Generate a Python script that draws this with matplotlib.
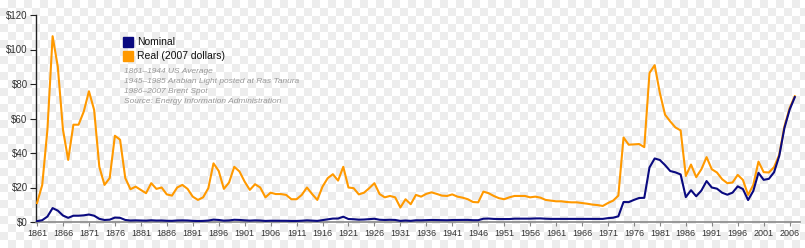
import numpy as np
import matplotlib
matplotlib.use("Agg")
import matplotlib.pyplot as plt
from matplotlib.patches import Rectangle

plt.rcParams["font.family"] = ["Liberation Sans", "DejaVu Sans"]

# 年份 1861-2007
years = list(range(1861, 2008))

# 名义油价（美元/桶）
nominal = [
    0.49, 1.05, 3.15, 8.06, 6.59, 3.74, 2.41, 3.63, 3.64, 3.86,
    4.34, 3.64, 1.83, 1.17, 1.35, 2.56, 2.42, 1.19, 0.86, 0.95,
    0.86, 0.78, 1.00, 0.84, 0.88, 0.71, 0.67, 0.88, 0.94, 0.87,
    0.67, 0.56, 0.64, 0.84, 1.36, 1.18, 0.79, 0.91, 1.29, 1.19,
    0.96, 0.80, 0.94, 0.86, 0.62, 0.73, 0.72, 0.72, 0.70, 0.61,
    0.61, 0.74, 0.95, 0.81, 0.64, 1.10, 1.56, 1.98, 2.01, 3.07,
    1.73, 1.61, 1.34, 1.43, 1.68, 1.88, 1.30, 1.17, 1.27, 1.19,
    0.65, 0.87, 0.67, 1.00, 0.97, 1.09, 1.18, 1.13, 1.02, 1.02,
    1.14, 1.19, 1.20, 1.21, 1.05, 1.05, 1.90, 1.99, 1.78, 1.71,
    1.71, 1.71, 1.93, 1.93, 1.93, 1.93, 2.06, 2.08, 1.90, 1.80,
    1.80, 1.80, 1.80, 1.80, 1.80, 1.80, 1.80, 1.80, 1.80, 1.80,
    2.24, 2.48, 3.29, 11.58, 11.53, 12.80, 13.92, 14.02, 31.61, 36.83,
    35.93, 32.97, 29.55, 28.78, 27.56, 14.43, 18.44, 14.92, 18.23, 23.73,
    20.00, 19.32, 16.97, 15.82, 17.02, 20.67, 19.09, 12.72, 17.97, 28.50,
    24.44, 25.02, 28.83, 38.27, 54.52, 65.14, 72.39,
]

# 实际油价（2007年美元）
real = [
    11.0, 21.5, 53.5, 107.7, 90.0, 53.5, 36.0, 56.4, 56.4, 64.0,
    75.8, 65.0, 32.0, 21.5, 25.5, 50.0, 47.7, 25.5, 19.0, 20.5,
    18.6, 16.7, 22.5, 19.2, 20.0, 16.0, 15.3, 20.0, 21.5, 19.2,
    14.7, 12.8, 14.3, 19.6, 34.0, 29.6, 19.2, 22.9, 32.0, 29.3,
    23.4, 18.6, 21.9, 20.0, 14.3, 17.0, 16.2, 16.2, 15.7, 13.2,
    13.2, 15.7, 20.0, 16.2, 12.8, 20.5, 25.4, 27.7, 24.0, 32.0,
    20.0, 19.6, 16.0, 17.0, 19.6, 22.5, 16.2, 14.3, 15.1, 14.3,
    8.4, 13.2, 10.3, 15.7, 14.7, 16.3, 17.2, 16.3, 15.3, 15.1,
    16.0, 14.7, 14.1, 13.2, 11.6, 11.4, 17.6, 16.7, 15.1, 13.8,
    13.2, 14.3, 15.1, 15.1, 15.1, 14.3, 14.7, 14.1, 12.8, 12.4,
    12.0, 12.0, 11.6, 11.4, 11.4, 11.0, 10.6, 10.1, 9.8, 9.3,
    11.0, 12.4, 15.3, 49.0, 44.8, 45.0, 45.2, 43.4, 86.4, 90.9,
    74.8, 62.2, 58.3, 54.8, 53.1, 26.7, 33.3, 26.0, 30.6, 37.6,
    30.6, 28.7, 24.8, 22.5, 22.9, 27.3, 24.4, 15.7, 21.5, 35.0,
    28.9, 28.7, 31.8, 39.0, 55.4, 66.0, 72.9,
]

y_ticks = [0, 20, 40, 60, 80, 100, 120]
y_labels = ["$0", "$20", "$40", "$60", "$80", "$100", "$120"]
x_ticks = list(range(1861, 2007, 5))

legend_labels = ["Nominal", "Real (2007 dollars)"]
notes = [
    "1861\u20131944 US Average",
    "1945\u20131985 Arabian Light posted at Ras Tanura",
    "1986\u20132007 Brent Spot",
    "Source: Energy Information Administration",
]

navy = "#0a0a80"
orange = "#ff9900"

W, H = 805, 248
fig = plt.figure(figsize=(W / 100, H / 100), dpi=100)

# 透明背景的棋盘格
s = 8
yy, xx = np.mgrid[0:H, 0:W]
board = ((yy // s + xx // s) % 2).astype(float)
img = np.ones((H, W, 3))
img[board == 1] = 0.93
fig.figimage(img, xo=0, yo=0, zorder=-10)

ax = fig.add_axes([36 / W, 26 / H, 764 / W, 207 / H])
ax.set_facecolor("none")
ax.set_zorder(1)

ax.plot(years, real, color=orange, lw=1.5, zorder=3)
ax.plot(years, nominal, color=navy, lw=1.5, zorder=4)

ax.set_xlim(1860.8, 2008)
ax.set_ylim(0, 120)
ax.set_yticks(y_ticks)
ax.set_yticklabels(y_labels)
ax.set_xticks(x_ticks)
ax.set_xticklabels([str(y) for y in x_ticks])

for sp in ["top", "right"]:
    ax.spines[sp].set_visible(False)
ax.spines["left"].set_color("#222222")
ax.spines["left"].set_linewidth(1.0)
ax.spines["bottom"].set_color("#888888")
ax.spines["bottom"].set_linewidth(1.2)

ax.tick_params(axis="y", length=4, width=0.8, color="#222222", labelsize=7, labelcolor="#333333", pad=2)
ax.tick_params(axis="x", length=3, width=0.8, color="#888888", labelsize=6.5, labelcolor="#333333", pad=2)

# 图例
for i, (lab, col) in enumerate(zip(legend_labels, [navy, orange])):
    ytop = 37 + i * 14
    fig.patches.append(Rectangle((123 / W, 1 - (ytop + 10) / H), 10 / W, 10 / H,
                                 transform=fig.transFigure, color=col, zorder=5))
    fig.text(137 / W, 1 - (ytop + 5) / H, lab, fontsize=7.5, va="center", ha="left",
             color="#111111", zorder=5)

for i, t in enumerate(notes):
    fig.text(124 / W, 1 - (71 + i * 10.3) / H, t, fontsize=6, style="italic",
             va="center", ha="left", color="#999999", zorder=5)

fig.savefig("out.png", dpi=100)
